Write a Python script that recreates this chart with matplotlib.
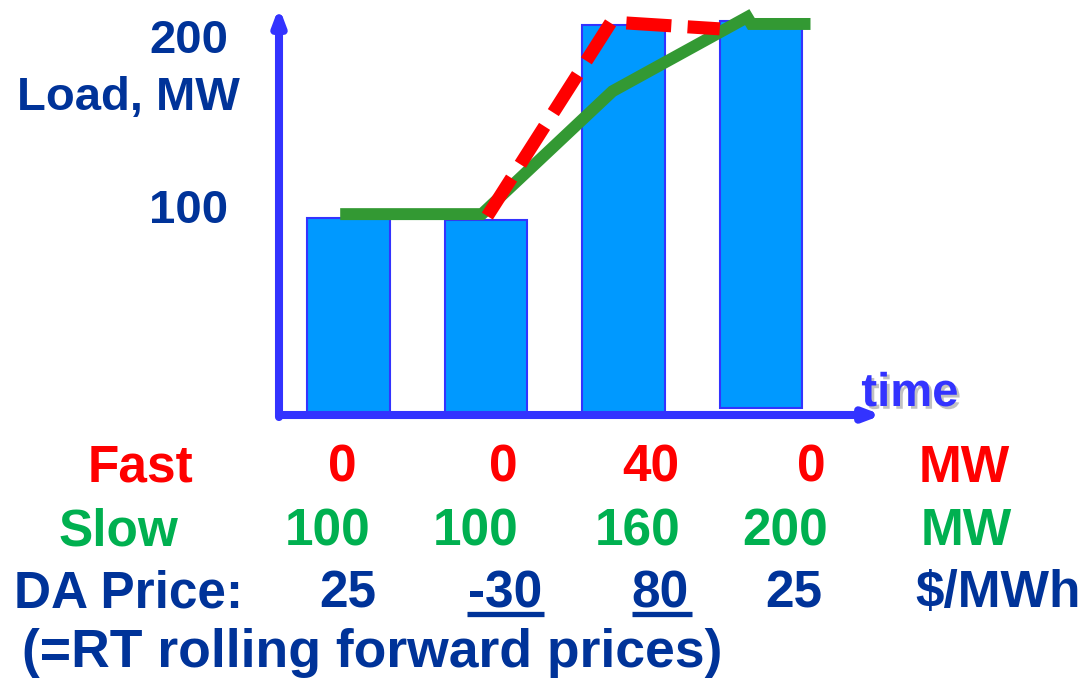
import matplotlib
matplotlib.use("Agg")
import matplotlib.pyplot as plt
import matplotlib.patheffects as pe
from matplotlib.lines import Line2D

# data
periods = [0, 1, 2, 3]
load_top = [100, 99, 199, 201]
load_base = [0, 0, 0, 2.5]

slow_x = [-0.06, 0.97, 1.92, 2.90, 2.93, 3.36]
slow_y = [102, 102, 165, 203, 199.5, 199.5]
fast_x = [1.01, 1.91, 2.70]
fast_y = [101, 200.5, 197]

fast_mw = ["0", "0", "40", "0"]
slow_mw = ["100", "100", "160", "200"]
da_price = ["25", "-30", "80", "25"]

RED = "#FF0000"
GREEN = "#00B050"
NAVY = "#003399"
AXBLUE = "#3333FF"

W, H = 1085, 679
fig = plt.figure(figsize=(W / 100, H / 100), dpi=100)
plt.rcParams["font.family"] = ["Liberation Sans", "DejaVu Sans"]


def px(x, y):
    # pixel position on the slide -> figure fraction
    return x / W, 1 - y / H


def label(x, y, s, color, size=37, ha="center"):
    fx, fy = px(x, y)
    fig.text(fx, fy, s, color=color, fontsize=size, fontweight="bold",
             ha=ha, va="baseline")


# chart area
ax = fig.add_axes([279 / W, 1 - 415 / H, (882 - 279) / W, (415 - 7) / H])
ax.set_xlim(-0.505, 3.88)
ax.set_ylim(-1, 208.2)
ax.axis("off")

heights = [t - b for t, b in zip(load_top, load_base)]
ax.bar(periods, heights, width=0.6, bottom=load_base, color="#0099FF",
       edgecolor=AXBLUE, linewidth=1.5, zorder=2)

# slow units (solid green), fast units (dashed red)
ax.plot(slow_x, slow_y, color="#339933", lw=8.6, solid_capstyle="butt",
        solid_joinstyle="miter", zorder=3)
ax.plot(fast_x, fast_y, color=RED, lw=9.4, dashes=(3.45, 1.25),
        dash_capstyle="butt", zorder=4)

# axis arrows
arrow = dict(arrowstyle="-|>,head_length=0.45,head_width=0.17", lw=5.8,
             color=AXBLUE, mutation_scale=20, shrinkA=0, shrinkB=0)
ax.annotate("", xy=(0, 1), xytext=(0, -0.005), xycoords="axes fraction",
            arrowprops=arrow)
ax.annotate("", xy=(1, 0), xytext=(0, 0), xycoords="axes fraction",
            arrowprops=arrow)

# y-axis labels
label(228, 53, "200", NAVY, 34, ha="right")
label(240, 110, "Load, MW", NAVY, 34, ha="right")
label(228, 223, "100", NAVY, 34, ha="right")

fx, fy = px(910, 406)
fig.text(fx, fy, "time", color=AXBLUE, fontsize=34, fontweight="bold",
         ha="center", va="baseline",
         path_effects=[pe.SimplePatchShadow(offset=(2, -2),
                                            shadow_rgbFace="#666666",
                                            alpha=0.4),
                       pe.Normal()])

# table below the chart
fast_cx = [342, 503, 651, 811]
slow_cx = [328, 476, 638, 785]
da_cx = [348, 505, 660, 794]

label(141, 482, "Fast", RED)
for cx, s in zip(fast_cx, fast_mw):
    label(cx, 482, s, RED)
label(964, 482, "MW", RED)

label(118, 545, "Slow", GREEN)
for cx, s in zip(slow_cx, slow_mw):
    label(cx, 545, s, GREEN)
label(966, 545, "MW", GREEN)

label(14, 607, "DA Price:", NAVY, ha="left")
for cx, s in zip(da_cx, da_price):
    label(cx, 607, s, NAVY)
label(998, 607, "$/MWh", NAVY)

# underline the two shifted prices
for x0, x1 in [(467, 544), (632, 692)]:
    a, b = px(x0, 614)
    c, d = px(x1, 614)
    fig.add_artist(Line2D([a, c], [b, d], color=NAVY, lw=3.8,
                          solid_capstyle="butt"))

label(22, 667, "(=RT rolling forward prices)", NAVY, size=38.5, ha="left")

fig.savefig("out.png", dpi=100)
